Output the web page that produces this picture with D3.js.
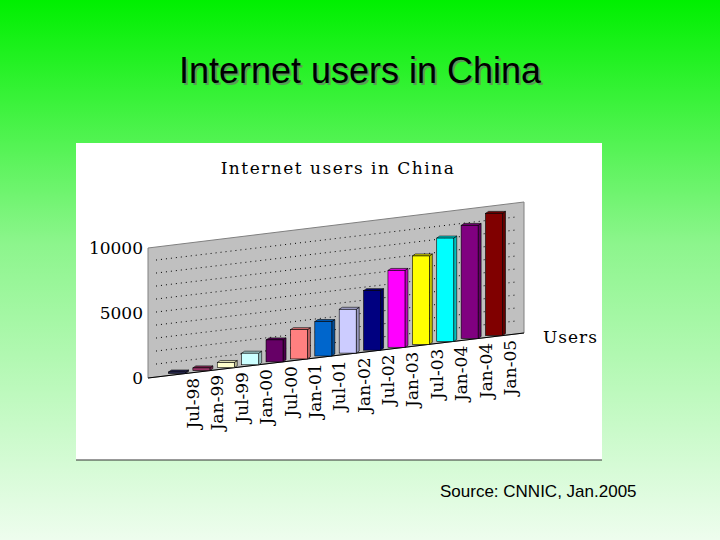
<!DOCTYPE html>
<html><head><meta charset="utf-8">
<script src="https://cdn.jsdelivr.net/npm/d3@7"></script>
<style>body{margin:0}svg{display:block}</style>
</head><body>
<div id="chart"></div>
<script>
// data (ten-thousands of users)
var periods = ["Jul-98","Jan-99","Jul-99","Jan-00","Jul-00","Jan-01","Jul-01","Jan-02","Jul-02","Jan-03","Jul-03","Jan-04","Jan-04","Jan-05"];
var users = [117, 210, 400, 890, 1690, 2250, 2650, 3370, 4580, 5910, 6800, 7950, 8700, 9400];
var colours = ["#333366","#993366","#ffffcc","#ccffff","#660066","#ff8080","#0066cc","#ccccff","#000080","#ff00ff","#ffff00","#00ffff","#800080","#800000"];
var yTicks = [0, 5000, 10000];

var W = 720, H = 540;
var svg = d3.select("#chart").append("svg").attr("width", W).attr("height", H);

// slide background
var grad = svg.append("defs").append("linearGradient").attr("id","bg")
    .attr("x1",0).attr("y1",0).attr("x2",0).attr("y2",1);
grad.append("stop").attr("offset","0%").attr("stop-color","#00f000");
grad.append("stop").attr("offset","45%").attr("stop-color","#8cf58c");
grad.append("stop").attr("offset","100%").attr("stop-color","#eefdee");
svg.append("rect").attr("width",W).attr("height",H).attr("fill","url(#bg)");

// title with a soft shadow
svg.append("text").attr("x",362).attr("y",85).attr("text-anchor","middle")
    .style("font-family","Liberation Sans, Arial").style("font-size","36px").attr("fill","#5a9a5a")
    .text("Internet users in China");
svg.append("text").attr("x",360).attr("y",83).attr("text-anchor","middle")
    .style("font-family","Liberation Sans, Arial").style("font-size","36px")
    .text("Internet users in China");

svg.append("text").attr("x",440).attr("y",497)
    .style("font-family","Liberation Sans, Arial").style("font-size","17px")
    .text("Source: CNNIC, Jan.2005");

// white chart box
svg.append("rect").attr("x",76).attr("y",143).attr("width",526).attr("height",317).attr("fill","#fff");
svg.append("line").attr("x1",76).attr("x2",602).attr("y1",460).attr("y2",460).attr("stroke","#333");

var serif = "DejaVu Serif, Liberation Serif, serif";
svg.append("text").attr("x",338).attr("y",174).attr("text-anchor","middle")
    .style("font-family",serif).style("font-size","17px").style("letter-spacing","1.5px")
    .text("Internet users in China");

// oblique geometry: floor rises from left to right
var x0 = 148, x1 = 524, floor0 = 378, floor1 = 333;
var floorY = d3.scaleLinear().domain([x0, x1]).range([floor0, floor1]);
var yScale = d3.scaleLinear().domain([0, 10000]).range([0, 130]);
var xScale = d3.scalePoint().domain(d3.range(periods.length)).range([177, 494]);

var wall = [[x0, floor0 - yScale(10000)], [x1, floor1 - yScale(10000) - 1], [x1, floor1], [x0, floor0]];
svg.append("polygon").attr("points", wall.join(" ")).attr("fill","#c0c0c0").attr("stroke","#808080");

// dotted grid lines every 1000
d3.range(1000, 10000, 1000).forEach(function(v){
    svg.append("line")
        .attr("x1", x0 + 8).attr("y1", floorY(x0 + 8) - yScale(v))
        .attr("x2", x1 - 8).attr("y2", floorY(x1 - 8) - yScale(v))
        .attr("stroke","#000").attr("stroke-dasharray","1,4");
});

// floor edge
svg.append("line").attr("x1",x0).attr("y1",floor0).attr("x2",x1).attr("y2",floor1).attr("stroke","#000");

// y axis labels
svg.selectAll(".ytick").data(yTicks).enter().append("text")
    .attr("x", 143).attr("y", function(d){ return floor0 - yScale(d) + 6; })
    .attr("text-anchor","end")
    .style("font-family",serif).style("font-size","17px")
    .text(function(d){ return d; });

// bars
var bw = 17, dx = 3, dy = 2;
var bars = svg.selectAll(".bar").data(users).enter().append("g");
bars.each(function(d, i){
    var g = d3.select(this);
    var cx = xScale(i);
    var base = floorY(cx) - 1;
    var top = base - yScale(d);
    var left = cx - bw / 2;
    var c = colours[i];
    g.append("polygon")
        .attr("points", [[left + bw, top], [left + bw + dx, top - dy], [left + bw + dx, base - dy], [left + bw, base]].join(" "))
        .attr("fill", d3.color(c).darker(0.8)).attr("stroke","#000").attr("stroke-width",0.6);
    g.append("polygon")
        .attr("points", [[left, top], [left + dx, top - dy], [left + bw + dx, top - dy], [left + bw, top]].join(" "))
        .attr("fill", d3.color(c).darker(0.4)).attr("stroke","#000").attr("stroke-width",0.6);
    g.append("rect").attr("x", left).attr("y", top).attr("width", bw).attr("height", base - top)
        .attr("fill", c).attr("stroke","#000").attr("stroke-width",0.6);
});

// category labels
svg.selectAll(".xlab").data(periods).enter().append("text")
    .attr("transform", function(d, i){
        var x = xScale(i) + 22;
        return "translate(" + x + "," + (floorY(x) + 6) + ") rotate(-90)";
    })
    .attr("text-anchor","end")
    .style("font-family",serif).style("font-size","17px")
    .text(function(d){ return d; });

svg.append("text").attr("x",543).attr("y",343)
    .style("font-family",serif).style("font-size","17px").style("letter-spacing","1px")
    .text("Users");
</script>
</body></html>
